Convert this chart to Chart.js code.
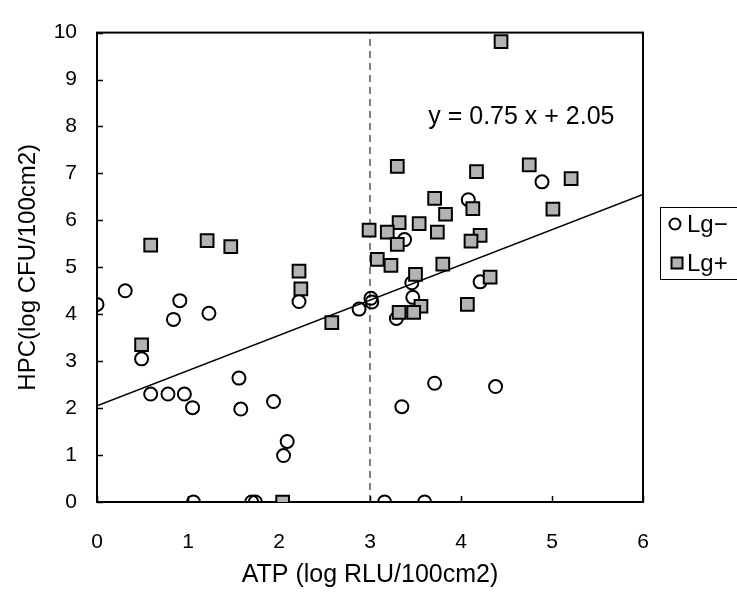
<!DOCTYPE html>
<html><head><meta charset="utf-8">
<script src="https://cdn.jsdelivr.net/npm/chart.js@4.4.1/dist/chart.umd.min.js"></script>
<style>html,body{margin:0;padding:0;background:#fff}</style>
</head><body>
<div style="width:737px;height:592px"><canvas id="c" width="737" height="592"></canvas></div>
<script>
// ---- data ----
const lgMinusX = [0.00,0.31,0.91,0.84,1.23,0.49,0.59,0.78,0.96,1.05,1.56,1.58,1.94,2.09,2.05,2.22,1.06,1.70,1.74,3.16,3.60,3.35,3.71,4.38,4.89,4.08,3.38,3.46,3.47,4.21,3.01,3.02,2.88,3.29];
const lgMinusY = [4.21,4.50,4.29,3.89,4.02,3.05,2.30,2.30,2.30,2.01,2.64,1.98,2.14,1.29,0.99,4.27,0.00,0.00,0.00,0.00,0.00,2.03,2.53,2.46,6.82,6.44,5.59,4.67,4.36,4.69,4.34,4.26,4.11,3.91];
const lgPlusX = [0.59,1.21,1.47,0.49,2.22,2.24,2.58,2.04,3.30,4.17,4.75,3.71,3.83,4.13,3.32,3.54,2.99,3.19,3.74,3.30,4.21,4.11,3.08,3.23,3.80,3.50,4.32,3.56,3.32,3.48,4.07,4.44,5.21,5.01];
const lgPlusY = [5.47,5.57,5.44,3.35,4.92,4.54,3.82,0.00,7.15,7.04,7.18,6.47,6.13,6.25,5.95,5.93,5.79,5.75,5.75,5.49,5.68,5.56,5.17,5.04,5.07,4.85,4.79,4.17,4.04,4.04,4.21,9.81,6.89,6.24];
const trendX = [0, 6];
const trendY = [2.05, 6.55];
const cutoffX = [3, 3];
const cutoffY = [0, 10];
const xTickValues = [0,1,2,3,4,5,6];
const yTickValues = [0,1,2,3,4,5,6,7,8,9,10];
const seriesNames = ['Lg\u2212', 'Lg+'];
const equationText = 'y = 0.75 x + 2.05';
const equationPos = [3.64, 8.2];
const xTitle = 'ATP (log RLU/100cm2)';
const yTitle = 'HPC(log CFU/100cm2)';

const toPts = (xs, ys) => xs.map((x, i) => ({x, y: ys[i]}));
const FONT = '"Liberation Sans", Arial, sans-serif';
const SQ_FILL = '#b3b3b3';

const framePlugin = {
  id: 'frame',
  beforeDatasetsDraw(chart) {
    const {ctx, chartArea: a, scales: {x, y}} = chart;
    ctx.save();
    ctx.strokeStyle = '#000';
    ctx.lineWidth = 2;
    ctx.strokeRect(a.left, a.top, a.right - a.left, a.bottom - a.top);
    ctx.lineWidth = 1.5;
    ctx.beginPath();
    yTickValues.forEach(v => { const p = Math.round(y.getPixelForValue(v)) + 0.5; ctx.moveTo(a.left, p); ctx.lineTo(a.left + 6, p); });
    xTickValues.forEach(v => { const p = Math.round(x.getPixelForValue(v)) + 0.5; ctx.moveTo(p, a.bottom); ctx.lineTo(p, a.bottom - 6); });
    ctx.stroke();
    ctx.restore();
  },
  afterDraw(chart) {
    const {ctx, scales: {x, y}} = chart;
    ctx.save();
    // equation
    ctx.fillStyle = '#000';
    ctx.font = '25px ' + FONT;
    ctx.textBaseline = 'middle';
    ctx.textAlign = 'left';
    ctx.fillText(equationText, x.getPixelForValue(equationPos[0]), y.getPixelForValue(equationPos[1]));
    // legend
    ctx.strokeStyle = '#000';
    ctx.lineWidth = 1;
    ctx.strokeRect(660.5, 207.5, 90, 72);
    ctx.font = '24px ' + FONT;
    ctx.lineWidth = 2;
    ctx.beginPath(); ctx.arc(675, 224, 5.5, 0, Math.PI * 2); ctx.stroke();
    ctx.fillText(seriesNames[0], 687, 225);
    ctx.fillStyle = SQ_FILL;
    ctx.fillRect(671.5, 257.5, 11, 11);
    ctx.strokeRect(671.5, 257.5, 11, 11);
    ctx.fillStyle = '#000';
    ctx.fillText(seriesNames[1], 687, 264);
    ctx.restore();
  }
};

new Chart(document.getElementById('c'), {
  type: 'scatter',
  data: {
    datasets: [
      { label: seriesNames[1], data: toPts(lgPlusX, lgPlusY), order: 1,
        pointStyle: 'rect', pointRadius: 9, pointHoverRadius: 9,
        backgroundColor: SQ_FILL, borderColor: '#000', borderWidth: 2 },
      { label: seriesNames[0], data: toPts(lgMinusX, lgMinusY), order: 2,
        pointStyle: 'circle', pointRadius: 6.5, pointHoverRadius: 6.5,
        backgroundColor: 'rgba(0,0,0,0)', borderColor: '#000', borderWidth: 2 },
      { label: 'trend', data: toPts(trendX, trendY), order: 3, showLine: true,
        pointRadius: 0, borderColor: '#000', borderWidth: 1.5, fill: false },
      { label: 'cutoff', data: toPts(cutoffX, cutoffY), order: 4, showLine: true,
        pointRadius: 0, borderColor: '#000', borderWidth: 1, borderDash: [7, 5], fill: false }
    ]
  },
  options: {
    responsive: false,
    animation: false,
    devicePixelRatio: 1,
    layout: { padding: { top: 20, right: 94, left: 0, bottom: 0 } },
    plugins: { legend: { display: false }, tooltip: { enabled: false } },
    scales: {
      x: {
        type: 'linear', min: 0, max: 6,
        afterFit: s => { s.height = 90; },
        afterBuildTicks: s => { s.ticks = xTickValues.map(v => ({value: v})); },
        grid: { display: false, drawTicks: false },
        border: { display: false },
        ticks: { padding: 28, color: '#000', font: { family: FONT, size: 21 } },
        title: { display: true, text: xTitle, color: '#000', font: { family: FONT, size: 25 }, padding: { top: 0, bottom: 2 } }
      },
      y: {
        type: 'linear', min: 0, max: 10,
        afterFit: s => { s.width = 97; },
        afterBuildTicks: s => { s.ticks = yTickValues.map(v => ({value: v})); },
        grid: { display: false, drawTicks: false },
        border: { display: false },
        ticks: { padding: 20, color: '#000', font: { family: FONT, size: 21 } },
        title: { display: true, text: yTitle, color: '#000', font: { family: FONT, size: 24 }, padding: { top: 14, bottom: 0 } }
      }
    }
  },
  plugins: [framePlugin]
});
</script>
</body></html>
